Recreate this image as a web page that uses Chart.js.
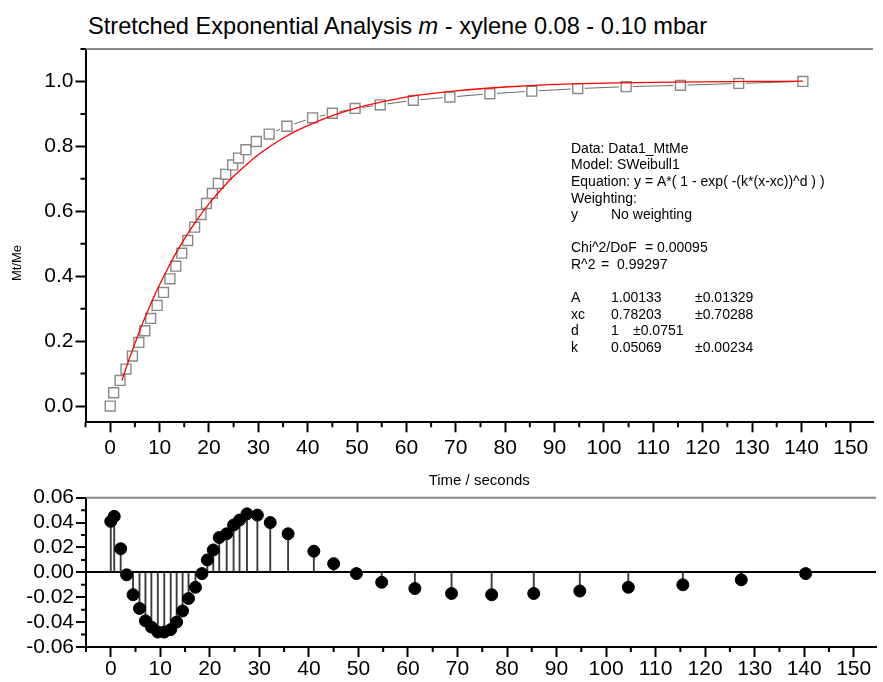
<!DOCTYPE html>
<html>
<head>
<meta charset="utf-8">
<title>Stretched Exponential Analysis</title>
<script src="https://cdn.jsdelivr.net/npm/chart.js@4.4.1/dist/chart.umd.min.js"></script>
<style>
  body { margin: 0; background: #fff; width: 883px; height: 682px; overflow: hidden; position: relative;
         font-family: "Liberation Sans", Arial, sans-serif; }
  #title { position: absolute; left: 88px; top: 13px; font-size: 23.6px; white-space: nowrap; color: #000; }
  .box { position: absolute; left: 0; width: 883px; }
  #fitBox { top: 0; height: 500px; }
  #resBox { top: 470px; height: 212px; }
</style>
</head>
<body>
<div id="title">Stretched Exponential Analysis <i>m</i> - xylene 0.08 - 0.10 mbar</div>
<div class="box" id="fitBox"><canvas id="fit"></canvas></div>
<div class="box" id="resBox"><canvas id="res"></canvas></div>
<script>
// ---------------- data ----------------
const times = [0, 0.7, 2.0, 3.2, 4.5, 5.8, 7.0, 8.2, 9.5, 10.8, 12.1, 13.3, 14.5, 15.7, 17.1, 18.4, 19.5, 20.7,
  21.9, 23.4, 24.8, 26.0, 27.5, 29.6, 32.2, 35.8, 41.0, 45.0, 49.6, 54.7, 61.4, 68.8, 76.9, 85.4, 94.7,
  104.5, 115.5, 127.3, 140.3];
const mtme = [0.000, 0.041, 0.079, 0.114, 0.154, 0.196, 0.232, 0.270, 0.310, 0.350, 0.392, 0.431, 0.471, 0.510,
  0.551, 0.590, 0.624, 0.655, 0.686, 0.714, 0.743, 0.764, 0.790, 0.815, 0.838, 0.862, 0.888, 0.902, 0.917,
  0.928, 0.942, 0.952, 0.962, 0.970, 0.978, 0.984, 0.988, 0.994, 1.000];
const residuals = [0.041, 0.045, 0.019, -0.002, -0.018, -0.029, -0.039, -0.044, -0.048, -0.048, -0.046, -0.040,
  -0.031, -0.021, -0.012, -0.001, 0.010, 0.018, 0.028, 0.031, 0.038, 0.042, 0.047, 0.046, 0.040, 0.031, 0.017,
  0.007, -0.001, -0.008, -0.013, -0.017, -0.018, -0.017, -0.015, -0.012, -0.010, -0.006, -0.001];

// fitted SWeibull1 curve
const fitTimes = [2.4, 3, 4, 5, 6, 7, 8, 9, 10, 12, 14, 16, 18, 20, 22.5, 25, 27.5, 30, 32.5, 35, 37.5, 40,
  45, 50, 55, 60, 70, 80, 90, 100, 110, 120, 130, 140.3];
const fitValues = [0.079, 0.107, 0.151, 0.193, 0.233, 0.271, 0.307, 0.341, 0.374, 0.434, 0.489, 0.538, 0.583,
  0.623, 0.668, 0.708, 0.743, 0.774, 0.801, 0.825, 0.846, 0.864, 0.895, 0.919, 0.937, 0.952, 0.971, 0.983,
  0.991, 0.995, 0.997, 0.999, 1.000, 1.001];

const xTicks = [0, 10, 20, 30, 40, 50, 60, 70, 80, 90, 100, 110, 120, 130, 140, 150];
const yTicks = [0.0, 0.2, 0.4, 0.6, 0.8, 1.0];
const resTicks = [-0.06, -0.04, -0.02, 0.00, 0.02, 0.04, 0.06];

const fitNotes = [
  ['Data: Data1_MtMe'],
  ['Model: SWeibull1'],
  ['Equation: y = A*( 1 - exp( -(k*(x-xc))^d ) )'],
  ['Weighting:'],
  ['y', 'No weighting'],
  [],
  ['Chi^2/DoF', '= 0.00095'],
  ['R^2', '=  0.99297'],
  [],
  ['A', '1.00133', '±0.01329'],
  ['xc', '0.78203', '±0.70288'],
  ['d', '1', '±0.0751'],
  ['k', '0.05069', '±0.00234']
];
// column x for every row of the notes
const noteCols = [[571], [571], [571], [571], [571, 611], [], [571, 645], [571, 601], [],
  [571, 611, 695], [571, 611, 695], [571, 611, 633], [571, 611, 695]];

const FONT = '"Liberation Sans", Arial, sans-serif';
const pts = times.map((t, i) => ({ x: t, y: mtme[i] }));
const fitPts = fitTimes.map((t, i) => ({ x: t, y: fitValues[i] }));
const resPts = times.map((t, i) => ({ x: t, y: residuals[i] }));

function minorOf(arr) {
  const step = arr[1] - arr[0];
  const out = [];
  for (let i = -1; i < arr.length; i++) out.push(+(arr[0] + step * i + step / 2).toFixed(4));
  return out;
}

// top grey frame line + short minor ticks
const frame = {
  id: 'frame',
  afterDraw(chart, args, o) {
    const { ctx, chartArea: a, scales: { x, y } } = chart;
    ctx.save();
    ctx.strokeStyle = '#858585';
    ctx.lineWidth = 2;
    ctx.beginPath(); ctx.moveTo(a.left, a.top); ctx.lineTo(a.right, a.top); ctx.stroke();
    ctx.strokeStyle = '#000';
    ctx.beginPath();
    o.xMinor.forEach(v => {
      if (v < x.min || v > x.max) return;
      const px = x.getPixelForValue(v);
      ctx.moveTo(px, a.bottom); ctx.lineTo(px, a.bottom + 5);
    });
    o.yMinor.forEach(v => {
      if (v < y.min || v > y.max) return;
      const py = y.getPixelForValue(v);
      ctx.moveTo(a.left, py); ctx.lineTo(a.left - 5, py);
    });
    ctx.stroke();
    ctx.restore();
  }
};

// fit report + y axis title
const notes = {
  id: 'notes',
  afterDraw(chart, args, o) {
    if (!o.lines) return;
    const ctx = chart.ctx;
    ctx.save();
    ctx.fillStyle = '#000';
    ctx.textBaseline = 'middle';
    ctx.font = '14px ' + FONT;
    o.lines.forEach((row, i) => {
      row.forEach((s, j) => ctx.fillText(s, o.cols[i][j], 149 + i * 16.6));
    });
    ctx.translate(17, 263);
    ctx.rotate(-Math.PI / 2);
    ctx.textAlign = 'center';
    ctx.font = '13px ' + FONT;
    ctx.fillText('Mt/Me', 0, 0);
    ctx.restore();
  }
};

function xAxis(h, pad, title) {
  return {
    type: 'linear', min: -5, max: 154.5, offset: false,
    afterBuildTicks: s => { s.ticks = xTicks.map(v => ({ value: v })); },
    afterFit: s => { s.height = h; },
    grid: { drawOnChartArea: false, offset: false, tickLength: 10, tickWidth: 2, tickColor: '#000' },
    border: { color: '#000', width: 2 },
    ticks: { color: '#000', font: { family: FONT, size: 21 }, padding: pad, maxRotation: 0, autoSkip: false },
    title: title ? { display: true, text: title, color: '#000', font: { family: FONT, size: 15 }, padding: 0 } : { display: false }
  };
}

new Chart(document.getElementById('fit'), {
  type: 'scatter',
  data: {
    datasets: [
      { data: pts, showLine: true, borderColor: '#6a6a6a', borderWidth: 1, pointRadius: 0, order: 4 },
      { data: pts, pointStyle: 'rect', pointRadius: 10, backgroundColor: '#fff', borderWidth: 0, order: 3 },
      { data: pts, pointStyle: 'rect', pointRadius: 7, backgroundColor: '#fff', borderColor: '#888',
        borderWidth: 1.4, order: 2 },
      { data: fitPts, showLine: true, borderColor: '#ff0000', borderWidth: 1.3, pointRadius: 0,
        cubicInterpolationMode: 'monotone', order: 1 }
    ]
  },
  options: {
    responsive: true, maintainAspectRatio: false, animation: false, events: [],
    layout: { padding: { top: 49, right: 0, bottom: 10, left: 0 } },
    plugins: {
      legend: { display: false }, tooltip: { enabled: false },
      frame: { xMinor: minorOf(xTicks), yMinor: minorOf(yTicks) },
      notes: { lines: fitNotes, cols: noteCols }
    },
    scales: {
      x: xAxis(67.7, 3, 'Time / seconds'),
      y: {
        min: -0.05, max: 1.1,
        afterBuildTicks: s => { s.ticks = yTicks.map(v => ({ value: v })); },
        afterFit: s => { s.width = 85.5; },
        grid: { drawOnChartArea: false, tickLength: 10, tickWidth: 2, tickColor: '#000' },
        border: { color: '#000', width: 2 },
        ticks: { color: '#000', font: { family: FONT, size: 21 }, padding: 2, autoSkip: false,
                 callback: v => v.toFixed(1) }
      }
    }
  },
  plugins: [frame, notes]
});

new Chart(document.getElementById('res'), {
  data: {
    datasets: [
      { type: 'scatter', data: resPts, pointRadius: 6, backgroundColor: '#000', borderColor: '#000', order: 1 },
      { type: 'bar', data: resPts, backgroundColor: '#3a3a3a', barThickness: 1.2, borderWidth: 0, order: 2 }
    ]
  },
  options: {
    responsive: true, maintainAspectRatio: false, animation: false, events: [],
    layout: { padding: { top: 27.7, right: 0, bottom: 0, left: 0 } },
    plugins: {
      legend: { display: false }, tooltip: { enabled: false },
      frame: { xMinor: minorOf(xTicks), yMinor: minorOf(resTicks) }
    },
    scales: {
      x: xAxis(35, 0, null),
      y: {
        min: -0.06, max: 0.06,
        afterBuildTicks: s => { s.ticks = resTicks.map(v => ({ value: v })); },
        afterFit: s => { s.width = 86; },
        grid: {
          drawOnChartArea: true, tickLength: 10, tickWidth: 2, tickColor: '#000',
          color: c => (c.tick && Math.abs(c.tick.value) < 1e-9 ? '#000' : 'rgba(0,0,0,0)'),
          lineWidth: 2
        },
        border: { color: '#000', width: 2 },
        ticks: { color: '#000', font: { family: FONT, size: 21 }, padding: 2, autoSkip: false,
                 callback: v => v.toFixed(2) }
      }
    }
  },
  plugins: [frame]
});
</script>
</body>
</html>
